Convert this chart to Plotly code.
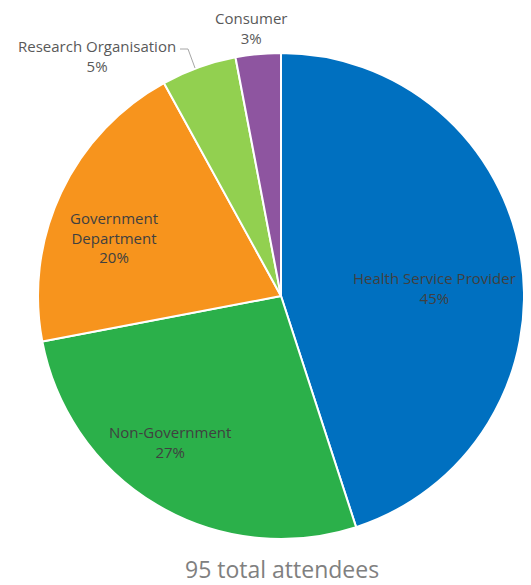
import plotly.graph_objects as go

categories = ["Health Service Provider", "Non-Government", "Government Department",
              "Research Organisation", "Consumer"]
display_labels = ["Health Service Provider", "Non-Government", "Government<br>Department",
                  "Research Organisation", "Consumer"]
percent_values = [45, 27, 20, 5, 3]
colors = ["#0070C0", "#2BB04A", "#F7941D", "#92D050", "#8E55A0"]
# label centres (pixels from top-left of the window) as placed in the original chart
label_px = [(434, 288), (170, 442), (114, 237), (97, 56), (251, 28)]
total_attendees = 95

OFF = 8  # page body margin
W, H = 531 - OFF, 585 - OFF


def fx(px):
    return (px - OFF) / W


def fy(py):
    return 1 - (py - OFF) / H


fig = go.Figure(go.Pie(
    labels=categories,
    values=percent_values,
    textinfo="none",
    sort=False,
    direction="clockwise",
    rotation=0,
    marker=dict(colors=colors, line=dict(color="white", width=2)),
    domain=dict(x=[fx(38), fx(524)], y=[fy(539), fy(53)]),
    showlegend=False,
    hoverinfo="label+percent",
))

for i, (lab, v) in enumerate(zip(display_labels, percent_values)):
    px, py = label_px[i]
    inside = i < 3
    fig.add_annotation(
        text=f"{lab}<br>{v}%",
        x=fx(px), y=fy(py), xref="paper", yref="paper",
        xanchor="center", yanchor="middle", showarrow=False,
        font=dict(family="Open Sans", size=15, color="#404040" if inside else "#595959"),
    )

# leader line for the Research Organisation label
fig.add_shape(
    type="path",
    path=f"M {fx(180)},{fy(49)} L {fx(188)},{fy(49)} L {fx(195)},{fy(68)}",
    xref="paper", yref="paper",
    line=dict(color="#A6A6A6", width=1),
)

fig.add_annotation(
    text=f"{total_attendees} total attendees",
    x=fx(282), y=fy(569), xref="paper", yref="paper", xanchor="center", yanchor="middle",
    showarrow=False,
    font=dict(family="Open Sans", size=23, color="#808080"),
)

fig.update_layout(
    width=W, height=H,
    margin=dict(l=0, r=0, t=0, b=0),
    paper_bgcolor="white", plot_bgcolor="white",
)

fig.write_html("out.html")
